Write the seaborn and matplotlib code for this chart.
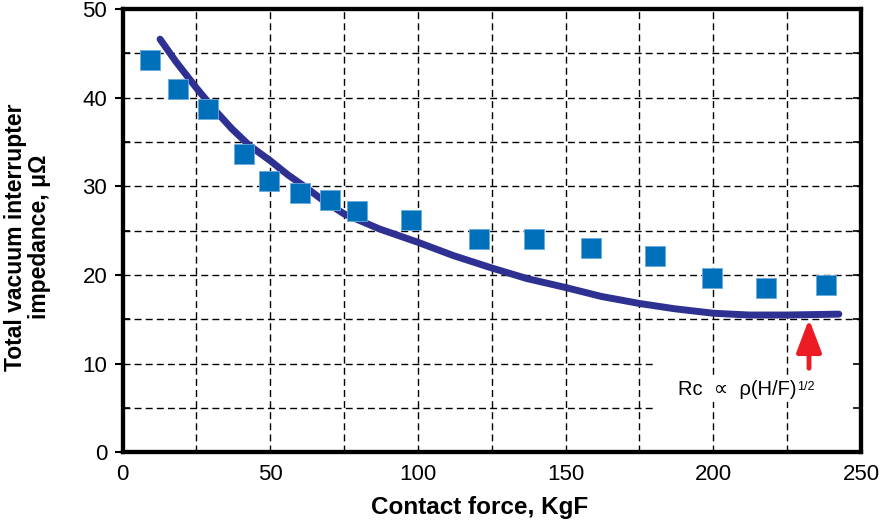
import numpy as np
import pandas as pd
import matplotlib
matplotlib.use('Agg')
import matplotlib.pyplot as plt
import seaborn as sns

# measured points (contact force KgF, impedance uOhm)
force_pts = [9.3, 18.8, 28.9, 41.2, 49.7, 60.2, 70.1, 79.4, 97.8,
             120.8, 139.2, 158.5, 180.2, 199.5, 217.9, 238.2]
imped_pts = [44.2, 41.0, 38.7, 33.6, 30.6, 29.2, 28.5, 27.2, 26.2,
             24.1, 24.1, 23.0, 22.1, 19.7, 18.5, 18.9]

# model curve
force_fit = [12.7, 18, 25, 31, 37, 43, 50, 56, 62, 68, 75, 87, 100, 112, 125,
             137, 150, 162, 175, 187, 200, 212, 225, 234, 242.5]
imped_fit = [46.6, 44.1, 41.1, 38.7, 36.5, 34.6, 32.9, 31.3, 29.9, 28.4, 26.9,
             25.2, 23.7, 22.2, 20.8, 19.6, 18.6, 17.6, 16.8, 16.2, 15.7,
             15.5, 15.5, 15.55, 15.6]

x_ticks = [0, 50, 100, 150, 200, 250]
y_ticks = [0, 10, 20, 30, 40, 50]

pts = pd.DataFrame({'force': force_pts, 'imp': imped_pts})
fit = pd.DataFrame({'force': force_fit, 'imp': imped_fit})

sns.set_style('white', {'text.color': 'black', 'axes.labelcolor': 'black',
                        'xtick.color': 'black', 'ytick.color': 'black'})
plt.rcParams['font.family'] = ['Liberation Sans', 'DejaVu Sans']

fig = plt.figure(figsize=(8.86, 5.21), dpi=100)
ax = fig.add_axes([0.1383, 0.1315, 0.8335, 0.8512])

# dashed grid
dash = dict(color='black', lw=1.0, ls=(0, (5, 3)), zorder=1)
for gx in range(25, 250, 25):
    ax.axvline(gx, **dash)
for gy in range(15, 50, 5):
    ax.axhline(gy, **dash)
for gy in (5, 10):
    ax.hlines(gy, 0, 180, **dash)

sns.lineplot(data=fit, x='force', y='imp', ax=ax, color='#2E3192', lw=5,
             sort=False, zorder=3)
sns.scatterplot(data=pts, x='force', y='imp', ax=ax, marker='s', s=190,
                color='#0070BA', edgecolor='#6aaadc', linewidth=0.6, zorder=4)

ax.set_xlim(0, 250)
ax.set_ylim(0, 50)
ax.set_xticks(x_ticks)
ax.set_yticks(y_ticks)
ax.set_yticks(range(5, 50, 10), minor=True)
ax.tick_params(axis='x', length=0, pad=8, labelsize=16)
ax.tick_params(axis='y', which='major', direction='out', length=6, width=1.5,
               pad=5, labelsize=16)
ax.tick_params(axis='y', which='minor', direction='in', length=5, width=1.2)

# inward ticks on the right spine
ax2 = ax.twinx()
ax2.set_ylim(0, 50)
ax2.set_yticks(range(5, 50, 5))
ax2.tick_params(axis='y', direction='in', length=6, width=1.2, labelright=False)
ax2.grid(False)

for a in (ax, ax2):
    for sp in a.spines.values():
        sp.set_linewidth(3)
        sp.set_color('black')

ax.set_xlabel('Contact force, KgF', fontsize=17.5, fontweight='bold')
ax.xaxis.set_label_coords(0.484, -0.099)
ax.set_ylabel('Total vacuum interrupter\nimpedance, μΩ', fontsize=16.5,
              fontweight='bold', linespacing=1.05)
ax.yaxis.set_label_coords(-0.097, 0.486)

ax.annotate('', xy=(232.4, 15.05), xytext=(232.4, 9.5),
            arrowprops=dict(arrowstyle='-|>,head_width=0.38,head_length=1.0',
                            mutation_scale=20, color='#ED1C24', lw=3.5,
                            shrinkA=0, shrinkB=0),
            zorder=5)
rc = ax.text(188, 6.5, 'Rc  ∝  ρ(H/F)', fontsize=14.5,
             ha='left', va='baseline', zorder=5,
             bbox=dict(facecolor='white', edgecolor='none', pad=2))
ax.annotate('1/2', xy=(1, 1), xycoords=rc, xytext=(0.5, -1),
            textcoords='offset points', fontsize=9, ha='left', va='top',
            zorder=6)

fig.savefig('out.png', dpi=100)
